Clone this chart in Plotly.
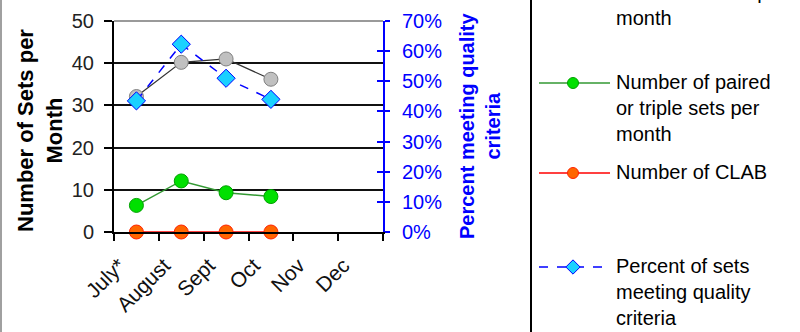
import plotly.graph_objects as go

# ---------------- data ----------------
months = ["July*", "August", "Sept", "Oct", "Nov", "Dec"]
sets_per_month = [32.1, 40.2, 41.0, 36.2, None, None]
paired_triple_sets = [6.3, 12.1, 9.3, 8.4, None, None]
clab_count = [0, 0, 0, 0, None, None]
pct_quality = [0.435, 0.623, 0.51, 0.44, None, None]

legend_labels = [
    "Number of sets per<br>month",
    "Number of paired<br>or triple sets per<br>month",
    "Number of CLAB",
    "Percent of sets<br>meeting quality<br>criteria",
]

W, H = 800, 332
FONT = "Liberation Sans, Arial, sans-serif"

def px(x):
    return x / W

def py(y):
    return (H - y) / H

grey_m = dict(symbol="circle", size=14, color="#c0c0c0", line=dict(color="#808080", width=1))
green_m = dict(symbol="circle", size=14, color="#00e000", line=dict(color="#00a000", width=1))
red_m = dict(symbol="circle", size=14, color="#ff6600", line=dict(color="#ff2200", width=1))
blue_m = dict(symbol="diamond", size=14, color="#1ad1ff", line=dict(color="#0000ff", width=1))

styles = [
    (dict(color="#333333", width=1.2), grey_m),
    (dict(color="#339933", width=1.5), green_m),
    (dict(color="#ff0000", width=1.5), red_m),
    (dict(color="#0000ff", width=1.5, dash="dash"), blue_m),
]

fig = go.Figure()

fig.add_trace(go.Scatter(x=months, y=sets_per_month, mode="lines+markers",
                         line=styles[0][0], marker=styles[0][1], cliponaxis=False,
                         name="Number of sets per month", showlegend=False))
fig.add_trace(go.Scatter(x=months, y=paired_triple_sets, mode="lines+markers",
                         line=styles[1][0], marker=styles[1][1], cliponaxis=False,
                         name="Number of paired or triple sets per month", showlegend=False))
fig.add_trace(go.Scatter(x=months, y=clab_count, mode="lines+markers",
                         line=styles[2][0], marker=styles[2][1], cliponaxis=False,
                         name="Number of CLAB", showlegend=False))
fig.add_trace(go.Scatter(x=months, y=pct_quality, mode="lines+markers", yaxis="y2",
                         line=styles[3][0], marker=styles[3][1], cliponaxis=False,
                         name="Percent of sets meeting quality criteria", showlegend=False))

# invisible trace to activate yaxis3 (inside ticks of the right axis)
fig.add_trace(go.Scatter(x=[months[0]], y=[None], yaxis="y3", showlegend=False, hoverinfo="skip"))

# ---------------- manual legend (cropped at the top like the reference) ----------------
leg_first_line_y = [-7, 83, 173, 267]
sample_x0, sample_x1, marker_x, text_x = 539, 610, 573, 614
for (ln, mk), yy, label in zip(styles, leg_first_line_y, legend_labels):
    mk2 = dict(mk)
    mk2["size"] = 11
    fig.add_trace(go.Scatter(x=[sample_x0, sample_x1], y=[yy, yy], mode="lines",
                             line=ln, xaxis="x2", yaxis="y4", showlegend=False,
                             hoverinfo="skip", cliponaxis=False))
    fig.add_trace(go.Scatter(x=[marker_x], y=[yy], mode="markers", marker=mk2,
                             xaxis="x2", yaxis="y4", showlegend=False,
                             hoverinfo="skip", cliponaxis=False))
    fig.add_annotation(text=label, xref="paper", yref="paper", x=px(text_x),
                       y=py(yy - 14), xanchor="left", yanchor="top", align="left",
                       showarrow=False, font=dict(family=FONT, size=20, color="#000"))

x_dom = [px(114), px(383)]
y_dom = [py(232), py(21)]

fig.update_layout(
    width=W, height=H,
    margin=dict(l=0, r=0, t=0, b=0, autoexpand=False),
    paper_bgcolor="white", plot_bgcolor="rgba(0,0,0,0)",
    font=dict(family=FONT, size=20, color="#000"),
    xaxis=dict(domain=x_dom, type="category", categoryorder="array", categoryarray=months,
               range=[-0.5, 5.5], showline=True, linecolor="#000", linewidth=2,
               ticks="outside", tickson="boundaries", ticklen=7, tickwidth=2, tickcolor="#000",
               tickangle=-45, tickfont=dict(size=21, color="#111"), showgrid=False,
               automargin=False, anchor="y", ticklabelstandoff=11, ticklabelshift=-17),
    yaxis=dict(domain=y_dom, range=[0, 50], dtick=10, showline=True, linecolor="#000",
               linewidth=2, ticks="outside", ticklen=8, tickwidth=2, tickcolor="#000",
               showgrid=True, gridcolor="#111", gridwidth=2, zeroline=False,
               tickfont=dict(size=20, color="#222"), automargin=False, anchor="x",
               ticklabelstandoff=6),
    yaxis2=dict(domain=y_dom, range=[0, 0.7], dtick=0.1, tickformat=".0%", overlaying="y",
                side="right", anchor="x", showline=True, linecolor="#0000ff", linewidth=2,
                ticks="outside", ticklen=5, tickwidth=2, tickcolor="#0000ff",
                showgrid=False, zeroline=False, tickfont=dict(size=20, color="#0000ff"),
                automargin=False, ticklabelstandoff=8),
    yaxis3=dict(domain=y_dom, range=[0, 0.7], dtick=0.1, overlaying="y", side="right",
                anchor="x", showline=False, ticks="inside", ticklen=6, tickwidth=2,
                tickcolor="#0000ff", showticklabels=False, showgrid=False, zeroline=False,
                automargin=False),
    xaxis2=dict(domain=[0, 1], range=[0, W], visible=False, anchor="y4", automargin=False),
    yaxis4=dict(domain=[0, 1], range=[H, 0], visible=False, anchor="x2", automargin=False),
)

# axis titles
fig.add_annotation(text="<b>Number of Sets per<br>Month</b>", xref="paper", yref="paper",
                   x=px(40), y=py(131), xanchor="center", yanchor="middle",
                   textangle=-90, showarrow=False,
                   font=dict(family=FONT, size=22, color="#000"))
fig.add_annotation(text="<b>Percent meeting quality<br>criteria</b>", xref="paper", yref="paper",
                   x=px(480), y=py(126), xanchor="center", yanchor="middle",
                   textangle=-90, showarrow=False,
                   font=dict(family=FONT, size=20, color="#0000ff"))

# top border of plot area (grey), legend box border and left picture border
fig.add_shape(type="line", xref="paper", yref="paper", x0=px(114), x1=px(383),
              y0=py(21), y1=py(21), line=dict(color="#9a9a9a", width=2), layer="above")
fig.add_shape(type="line", xref="paper", yref="paper", x0=px(531), x1=px(531),
              y0=0, y1=1, line=dict(color="#000", width=2))
fig.add_shape(type="line", xref="paper", yref="paper", x0=px(1), x1=px(1),
              y0=0, y1=1, line=dict(color="#a0a0a0", width=2))

fig.write_html("out.html", config={"displayModeBar": False},
               post_script="document.body.style.margin='0';document.body.style.overflow='hidden';")
